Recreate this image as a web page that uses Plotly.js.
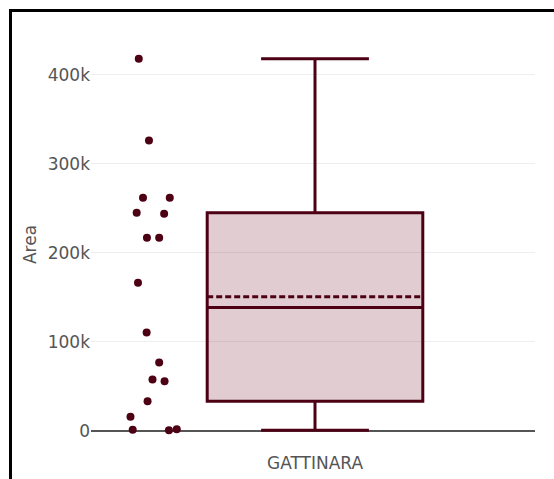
<!DOCTYPE html>
<html>
<head>
<meta charset="utf-8">
<script src="https://cdn.plot.ly/plotly-3.0.1.min.js"></script>
<style>
  html, body { margin: 0; padding: 0; width: 554px; height: 479px; overflow: hidden; background: #fff; }
  #frame { position: absolute; left: 9px; top: 9px; width: 700px; height: 600px;
           border-top: 3px solid #000; border-left: 3px solid #000; }
  #chart { position: absolute; left: 0; top: 0; width: 600px; height: 500px; }
</style>
</head>
<body>
<div id="frame"><div id="chart"></div></div>
<script>
// Data
const category = "GATTINARA";
const areaValues = [418000, 326000, 262000, 262000, 245000, 244000, 217000, 217000,
                    166600, 110500, 77000, 58000, 55800, 33400, 16000, 1500, 800, 2000];
const yTitle = "Area";

const trace = {
  type: "box",
  y: areaValues,
  x: areaValues.map(() => category),
  name: category,
  boxpoints: "all",
  jitter: 0.3,
  pointpos: -1.5,
  boxmean: true,
  marker: { color: "#4d0014", size: 8 },
  line: { color: "#4d0014", width: 3 },
  fillcolor: "rgba(100,0,25,0.2)",
  showlegend: false
};

const layout = {
  width: 600,
  height: 500,
  margin: { l: 79, r: 77, t: 26, b: 61 },
  paper_bgcolor: "#fff",
  plot_bgcolor: "#fff",
  font: { family: "DejaVu Sans, Verdana, sans-serif", size: 17, color: "#555" },
  showlegend: false,
  xaxis: {
    type: "category",
    showgrid: false,
    zeroline: false,
    showline: false
  },
  yaxis: {
    title: { text: yTitle, font: { size: 17, color: "#555" }, standoff: 6 },
    showgrid: true,
    gridcolor: "#eee",
    gridwidth: 1,
    zeroline: true,
    zerolinecolor: "#555",
    zerolinewidth: 2,
    tickvals: [0, 100000, 200000, 300000, 400000],
    ticktext: ["0", "100k", "200k", "300k", "400k"]
  }
};

Plotly.newPlot("chart", [trace], layout, { displayModeBar: false, staticPlot: true });
</script>
</body>
</html>
